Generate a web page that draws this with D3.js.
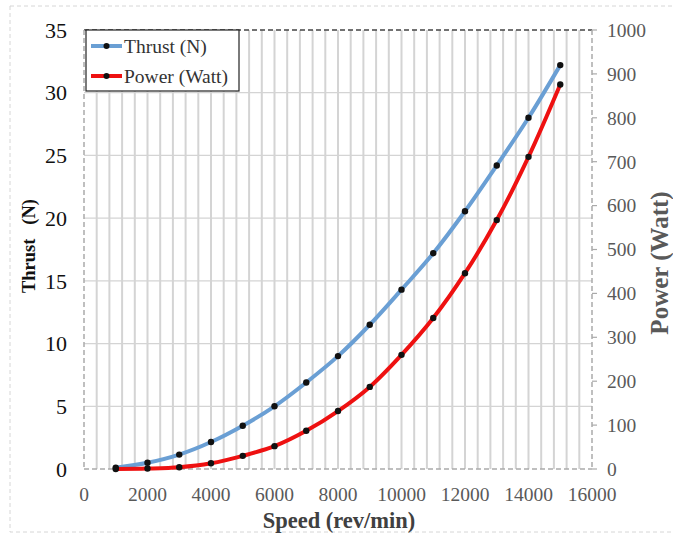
<!DOCTYPE html>
<html><head><meta charset="utf-8">
<script src="https://cdn.jsdelivr.net/npm/d3@7"></script>
<style>body{margin:0;background:#fff}svg{display:block}</style>
</head><body>
<script>
const speeds = [1000,2000,3000,4000,5000,6000,7000,8000,9000,10000,11000,12000,13000,14000,15000];
const thrust = [0.1,0.5,1.15,2.15,3.45,5.0,6.9,9.0,11.5,14.3,17.2,20.55,24.2,28.0,32.2];
const power  = [0,1,4,13,30,52,87,132,187,260,344,446,567,711,876];
const xTicks = [0,2000,4000,6000,8000,10000,12000,14000,16000];
const yLeftTicks = [0,5,10,15,20,25,30,35];
const yRightTicks = [0,100,200,300,400,500,600,700,800,900,1000];
const seriesNames = ["Thrust (N)","Power (Watt)"];

const W=673,H=535;
const svg=d3.select("body").append("svg").attr("width",W).attr("height",H);
const serif="'Liberation Serif','Times New Roman',serif";

// outer dashed frame
svg.append("rect").attr("x",10).attr("y",6).attr("width",680).attr("height",526)
  .attr("fill","none").attr("stroke","#d6d6d6").attr("stroke-dasharray","4,3");

const x=d3.scaleLinear().domain([0,16000]).range([84,592]);
const yL=d3.scaleLinear().domain([0,35]).range([469,30]);
const yR=d3.scaleLinear().domain([0,1000]).range([469,30]);

// vertical grid every 400
svg.append("g").selectAll("line").data(d3.range(400,16000,400)).join("line")
  .attr("x1",d=>x(d)).attr("x2",d=>x(d)).attr("y1",yL(35)).attr("y2",yL(0))
  .attr("stroke","#d4d4d4").attr("stroke-width",2);
// horizontal grid
svg.append("g").selectAll("line").data(yLeftTicks.slice(1,-1)).join("line")
  .attr("x1",x(0)).attr("x2",x(16000)).attr("y1",d=>yL(d)).attr("y2",d=>yL(d))
  .attr("stroke","#d4d4d4").attr("stroke-width",1.3);

// plot borders
svg.append("line").attr("x1",x(0)).attr("x2",x(16000)).attr("y1",yL(35)).attr("y2",yL(35))
  .attr("stroke","#444").attr("stroke-width",1.3).attr("stroke-dasharray","5,3");
svg.append("line").attr("x1",x(0)).attr("x2",x(0)).attr("y1",yL(35)).attr("y2",yL(0))
  .attr("stroke","#aaa").attr("stroke-width",1.5).attr("stroke-dasharray","5,3");
svg.append("line").attr("x1",x(16000)).attr("x2",x(16000)).attr("y1",yL(35)).attr("y2",yL(0))
  .attr("stroke","#aaa").attr("stroke-width",1.5).attr("stroke-dasharray","5,3");
svg.append("line").attr("x1",x(0)).attr("x2",x(16000)).attr("y1",yL(0)).attr("y2",yL(0))
  .attr("stroke","#aaa").attr("stroke-width",1.5).attr("stroke-dasharray","5,3");

// right ticks
svg.append("g").selectAll("line").data(yRightTicks).join("line")
  .attr("x1",x(16000)).attr("x2",x(16000)+5).attr("y1",d=>yR(d)).attr("y2",d=>yR(d))
  .attr("stroke","#aaa").attr("stroke-width",1.2);

// tick labels
svg.append("g").selectAll("text").data(yLeftTicks).join("text")
  .attr("x",67).attr("y",d=>yL(d)).attr("dy","0.35em").attr("text-anchor","end")
  .attr("font-family",serif).attr("font-size",22).attr("fill","#111").text(d=>d);
svg.append("g").selectAll("text").data(xTicks).join("text")
  .attr("x",d=>x(d)).attr("y",501).attr("text-anchor","middle")
  .attr("font-family",serif).attr("font-size",19.5).attr("fill","#595959").text(d=>d);
svg.append("g").selectAll("text").data(yRightTicks).join("text")
  .attr("x",607).attr("y",d=>yR(d)).attr("dy","0.35em").attr("text-anchor","start")
  .attr("font-family",serif).attr("font-size",19.5).attr("fill","#595959").text(d=>d);

// axis titles
svg.append("text").attr("transform","translate(35,246) rotate(-90)").attr("text-anchor","middle")
  .attr("font-family",serif).attr("font-weight","bold").attr("font-size",18.5).attr("fill","#111")
  .style("white-space","pre").text("Thrust   (N)");
svg.append("text").attr("x",339).attr("y",528).attr("text-anchor","middle")
  .attr("font-family",serif).attr("font-weight","bold").attr("font-size",22.5).attr("fill","#404040")
  .text("Speed (rev/min)");
svg.append("text").attr("transform","translate(668,263) rotate(-90)").attr("text-anchor","middle")
  .attr("font-family",serif).attr("font-weight","bold").attr("font-size",25).attr("fill","#595959")
  .text("Power (Watt)");

// lines
const lineT=d3.line().x((d,i)=>x(speeds[i])).y(d=>yL(d)).curve(d3.curveCatmullRom);
const lineP=d3.line().x((d,i)=>x(speeds[i])).y(d=>yR(d)).curve(d3.curveCatmullRom);
const blue="#6a9fd4", red="#ee1111";
svg.append("path").attr("d",lineT(thrust)).attr("fill","none").attr("stroke",blue).attr("stroke-width",4);
svg.append("path").attr("d",lineP(power)).attr("fill","none").attr("stroke",red).attr("stroke-width",4);
svg.append("g").selectAll("circle").data(thrust).join("circle")
  .attr("cx",(d,i)=>x(speeds[i])).attr("cy",d=>yL(d)).attr("r",3.2).attr("fill","#111");
svg.append("g").selectAll("circle").data(power).join("circle")
  .attr("cx",(d,i)=>x(speeds[i])).attr("cy",d=>yR(d)).attr("r",3.2).attr("fill","#111");

// legend
const lg=svg.append("g");
lg.append("rect").attr("x",86).attr("y",30).attr("width",153).attr("height",61)
  .attr("fill","#fff").attr("stroke","#222").attr("stroke-width",1.2);
[blue,red].forEach((c,i)=>{
  const yy=46+i*30;
  lg.append("line").attr("x1",91).attr("x2",122).attr("y1",yy).attr("y2",yy).attr("stroke",c).attr("stroke-width",4);
  lg.append("circle").attr("cx",106.5).attr("cy",yy).attr("r",3).attr("fill","#111");
  lg.append("text").attr("x",124).attr("y",yy).attr("dy","0.35em").attr("font-family",serif)
    .attr("font-size",19.5).attr("fill","#333").text(seriesNames[i]);
});
</script>
</body></html>
